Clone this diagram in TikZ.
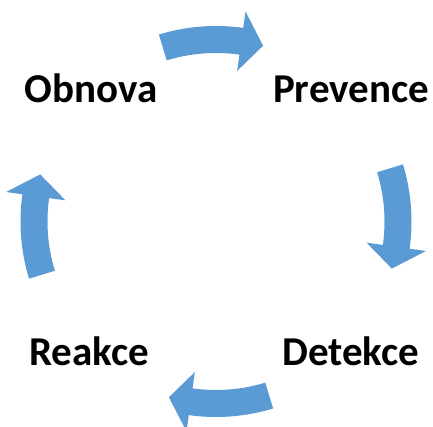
\documentclass[tikz,border=0pt]{standalone}
\usepackage{fontspec}
\setmainfont{Carlito}
\usepackage{tikz}
\usetikzlibrary{positioning}
\definecolor{cycleblue}{HTML}{5B9BD5}

% curved block arrow around (c), tail at angle #1
\newcommand{\cyclearrow}[1]{%
    \fill[blockarrow, shift={(c)}, rotate=#1]
        (0:168.5pt) arc[start angle=0, end angle=-25, radius=168.5pt]
        -- (-25:152pt) -- (-32:182pt) -- (-25:212pt)
        -- (-25:195.5pt) arc[start angle=-25, end angle=0, radius=195.5pt]
        -- cycle;
}

\begin{document}
\begin{tikzpicture}[%
        x=1pt, y=1pt,
        phase/.style={font=\bfseries\fontsize{41}{48}\selectfont, inner sep=0pt, anchor=base},
        blockarrow/.style={fill=cycleblue}
    ]
    \useasboundingbox (0,0) rectangle (433,426);
    \coordinate (c) at (216,204.5);

    % --- Phases ---
    \node[phase] (obnova)   at (91,323)  {Obnova};
    \node[phase] (prevence) at (351,323) {Prevence};
    \node[phase] (detekce)  at (351,61)  {Detekce};
    \node[phase] (reakce)   at (89,61)   {Reakce};

    % --- Arrows ---
    \cyclearrow{107}
    \cyclearrow{17}
    \cyclearrow{-73}
    \cyclearrow{-163}
\end{tikzpicture}
\end{document}
